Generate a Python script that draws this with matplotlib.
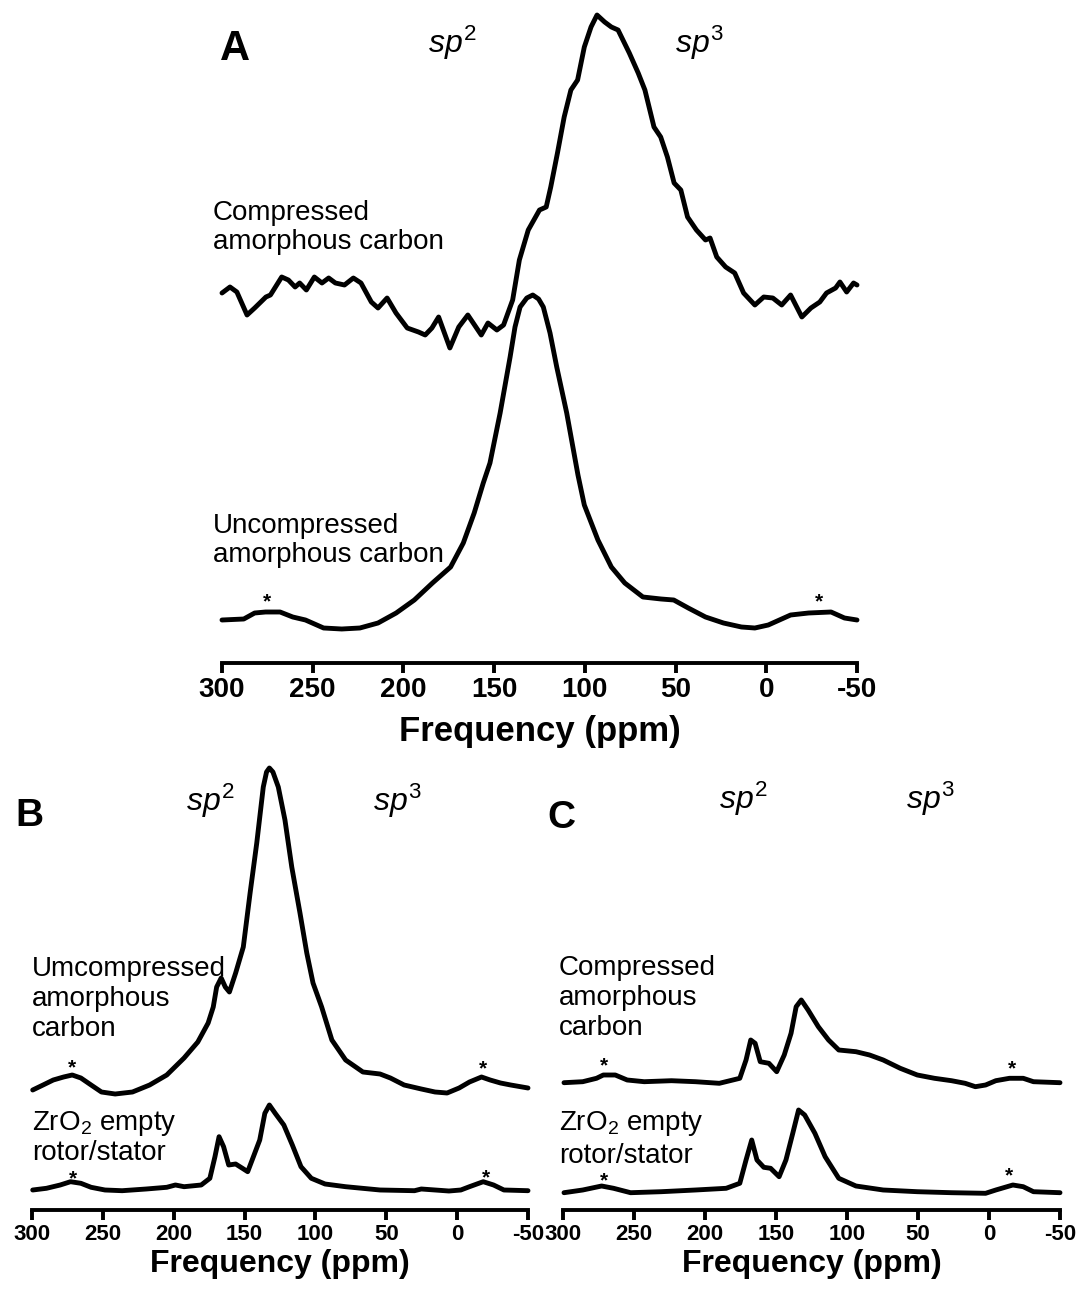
import numpy as np
import matplotlib
matplotlib.use("Agg")
import matplotlib.pyplot as plt

plt.rcParams['font.family'] = ['Liberation Sans', 'DejaVu Sans']
plt.rcParams['mathtext.fontset'] = 'custom'
plt.rcParams['mathtext.rm'] = 'Liberation Sans'
plt.rcParams['mathtext.it'] = 'Liberation Sans:italic'
plt.rcParams['mathtext.bf'] = 'Liberation Sans:bold'
plt.rcParams['axes.unicode_minus'] = False

# ---- panel A: compressed / uncompressed amorphous carbon ----
a_comp_ppm = [300, 295.6, 291.8, 286.2, 282.0, 275.8, 273.3, 267.1, 263.4, 259.7,
              257.2, 253.5, 249.1, 244.9, 241.2, 237.5, 232.5, 227.6, 223.4, 217.7,
              214.0, 209.0, 204.1, 197.9, 191.7, 188.0, 184.3, 180.6, 174.4, 169.5,
              164.5, 157.1, 153.4, 148.5, 144.8, 139.8, 136.1, 131.2, 125.0, 121.3,
              118.8, 115.1, 111.4, 107.7, 104.0, 100.3, 96.6, 93.3, 89.1, 85.4,
              81.7, 75.5, 70.6, 66.9, 61.9, 58.2, 54.5, 50.8, 47.1, 43.4,
              38.5, 33.5, 31.0, 27.3, 22.4, 17.4, 12.5, 6.3, 1.4, -3.6,
              -8.5, -13.4, -19.6, -24.6, -29.5, -33.2, -38.2, -40.6, -44.3, -48.1, -50]
a_comp_int = [60, 66, 61, 38, 45, 56, 58, 76, 73, 66,
              70, 63, 76, 70, 75, 70, 68, 75, 70, 51,
              45, 55, 40, 25, 21, 18, 25, 36, 5, 26,
              38, 18, 30, 23, 28, 53, 93, 123, 143, 146,
              166, 200, 236, 263, 273, 306, 326, 338, 331, 326,
              323, 300, 280, 263, 226, 216, 196, 170, 163, 136,
              123, 113, 115, 96, 86, 80, 60, 48, 56, 55,
              48, 58, 36, 45, 51, 60, 65, 71, 61, 70, 68]

a_unc_ppm = [300, 288, 282, 276, 268, 261, 254, 244, 234, 224,
             214, 204, 194, 184, 174, 167, 161, 156, 152.3, 146.7,
             141.2, 138.5, 135.7, 132, 128.7, 125.5, 122.9, 119.2, 115.5, 110,
             103.8, 100.3, 92.8, 85.4, 78, 68, 58, 51, 43, 33.5,
             23.6, 13.7, 6.3, -1.1, -13.4, -23.3, -35.7, -43.1, -50]
a_unc_int = [13, 14, 20, 21, 21, 16, 13, 5, 4, 5,
             10, 20, 33, 50, 66, 90, 120, 150, 170, 220,
             276, 306, 326, 335, 338, 334, 326, 300, 266, 220,
             158, 128, 93, 66, 50, 36, 34, 33, 25, 16,
             10, 6, 5, 8, 18, 20, 21, 15, 13]

# ---- panel B: uncompressed carbon / empty ZrO2 rotor ----
b_unc_ppm = [299.5, 292.2, 285.0, 277.7, 271.6, 265.5, 258.3, 251.0, 241.3, 229.1,
             217.0, 204.9, 192.7, 183.0, 175.7, 172.1, 169.7, 166.5, 163.6, 160.7,
             156.3, 150.9, 146.1, 141.4, 136.8, 134.5, 132.5, 130.0, 126.2, 121.5,
             116.7, 110.9, 106.1, 101.7, 95.6, 88.4, 78.7, 66.5, 54.4, 47.1,
             37.4, 25.3, 15.6, 7.1, -1.4, -8.7, -17.2, -23.3, -30.6, -37.8, -50]
b_unc_int = [10, 15, 20, 23, 25, 22, 15, 8, 6, 8,
             15, 25, 42, 58, 77, 93, 113, 122, 113, 108,
             127, 153, 207, 257, 313, 328, 332, 328, 313, 280,
             233, 187, 147, 117, 93, 60, 40, 28, 26, 22,
             15, 11, 8, 7, 12, 18, 23, 20, 17, 15, 12]

b_zro_ppm = [299.5, 289.8, 280.1, 272.8, 265.5, 258.3, 248.5, 236.4, 219.4, 204.9,
             198.8, 192.7, 180.6, 174.5, 170.9, 168.0, 164.8, 161.2, 156.3, 151.5,
             147.8, 144.2, 139.3, 135.7, 132.5, 128.4, 122.3, 116.3, 110.2, 102.9,
             93.2, 78.7, 54.4, 30.1, 25.3, 5.8, -2.6, -8.7, -18.4, -25.7, -33, -50]
b_zro_int = [5, 6.7, 10, 13.3, 11.7, 7.7, 5, 4.3, 6, 7.7,
             10, 8.3, 10, 16.7, 38.3, 58.3, 48.3, 30, 31, 26.7,
             23.3, 36.7, 55, 81.7, 90, 81.7, 70, 50, 28.3, 16.7,
             11, 8.3, 5, 4.3, 6, 4, 5, 8.3, 13.3, 10, 5, 4.3]

# ---- panel C: compressed carbon / empty ZrO2 rotor ----
c_comp_ppm = [299.3, 286.1, 276.4, 271.6, 263.2, 254.8, 242.8, 223.6, 206.7, 189.9,
              175.5, 171.1, 167.8, 164.7, 161.1, 155.0, 149.5, 144.2, 139.4, 135.8,
              132.2, 127.4, 120.2, 113.0, 105.8, 93.7, 84.1, 74.5, 62.5, 50.5,
              38.4, 26.4, 16.8, 9.6, 2.4, -4.8, -14.4, -24.1, -31.3, -50]
c_comp_int = [7.3, 8.3, 11.7, 15, 15, 10, 8.3, 9.3, 8.3, 6.7,
              11.7, 30, 50, 46.7, 28.3, 26.7, 18.3, 35, 56.7, 83.3,
              90, 80, 63.3, 50, 40, 38.3, 35, 30, 21.7, 15,
              11.7, 9.3, 6.7, 3.3, 5, 9.3, 11.7, 11.7, 8.3, 7.3]

c_zro_ppm = [299.3, 286.1, 272.8, 264.4, 252.4, 230.8, 206.7, 185.1, 175.5, 171.1,
             167.1, 163.4, 158.6, 153.8, 147.8, 143.0, 138.2, 134.1, 129.8, 122.6,
             115.4, 105.8, 93.7, 74.5, 50.5, 26.4, 2.4, -4.8, -16.8, -24.1, -31.3, -50]
c_zro_int = [2.3, 5, 9, 6.7, 2.3, 3.3, 5, 6.7, 11.7, 35,
             55, 35, 27.7, 26.7, 18.3, 35, 61.7, 85, 80, 61.7,
             38.3, 16.7, 9, 5, 3.3, 2.3, 1.7, 5, 10, 8.3, 3.3, 2.3]

ticks = [300, 250, 200, 150, 100, 50, 0, -50]
tick_labels = [str(t) for t in ticks]

W, H = 1077, 1300
fig = plt.figure(figsize=(W / 100, H / 100), dpi=100)


def make_axes(left, right, bottom, top, ymax, tick_size, label_size, labelpad):
    ax = fig.add_axes([left / W, 1 - bottom / H, (right - left) / W, (bottom - top) / H])
    ax.set_xlim(300, -50)
    ax.set_ylim(0, ymax)
    for s in ['top', 'left', 'right']:
        ax.spines[s].set_visible(False)
    ax.spines['bottom'].set_linewidth(2.8)
    ax.set_yticks([])
    ax.set_xticks(ticks)
    ax.set_xticklabels(tick_labels, fontweight='bold')
    ax.tick_params(axis='x', direction='out', length=7, width=2.8, pad=3,
                   labelsize=tick_size)
    ax.set_xlabel('Frequency (ppm)', fontsize=label_size, fontweight='bold',
                  labelpad=labelpad)
    ax.patch.set_alpha(0)
    return ax


def trace(ax, ppm, inten, offset):
    ax.plot(ppm, np.array(inten) + offset, color='black', lw=3.5,
            solid_joinstyle='round', solid_capstyle='round', clip_on=False)


def star(ax, x, y):
    ax.text(x, y, '*', ha='center', va='center', fontsize=15, fontweight='bold',
            clip_on=False)


sp_kw = dict(ha='center', va='baseline', fontsize=23)
lab_kw = dict(ha='left', va='baseline', fontsize=20, clip_on=False)

# panel A
axA = make_axes(222, 857, 663, 0, 663, 20, 25, 9)
trace(axA, a_comp_ppm, a_comp_int, 310)
trace(axA, a_unc_ppm, a_unc_int, 30)
axA.text(301, 634, 'A', ha='left', va='top', fontsize=30, fontweight='bold')
axA.text(173, 610, r'$\mathit{sp}^{2}$', **sp_kw)
axA.text(37, 610, r'$\mathit{sp}^{3}$', **sp_kw)
axA.text(305, 443, 'Compressed', **lab_kw)
axA.text(305, 414, 'amorphous carbon', **lab_kw)
axA.text(305, 130, 'Uncompressed', **lab_kw)
axA.text(305, 101, 'amorphous carbon', **lab_kw)
star(axA, 275, 61)
star(axA, -29, 61)

# panel B
axB = make_axes(32, 528, 1210, 760, 450, 16, 23, 3)
trace(axB, b_unc_ppm, b_unc_int, 110)
trace(axB, b_zro_ppm, b_zro_int, 15)
axB.text(312, 412, 'B', ha='left', va='top', fontsize=28, fontweight='bold')
axB.text(174, 399, r'$\mathit{sp}^{2}$', **sp_kw)
axB.text(42, 399, r'$\mathit{sp}^{3}$', **sp_kw)
axB.text(300, 234, 'Umcompressed', **lab_kw)
axB.text(300, 204, 'amorphous', **lab_kw)
axB.text(300, 174, 'carbon', **lab_kw)
axB.text(300, 80, r'ZrO$_2$ empty', **lab_kw)
axB.text(300, 50, 'rotor/stator', **lab_kw)
star(axB, 272, 142)
star(axB, -18, 141)
star(axB, 271, 31)
star(axB, -20, 32)

# panel C
axC = make_axes(563, 1060, 1210, 760, 450, 16, 23, 3)
trace(axC, c_comp_ppm, c_comp_int, 120)
trace(axC, c_zro_ppm, c_zro_int, 15)
axC.text(311, 410, 'C', ha='left', va='top', fontsize=28, fontweight='bold')
axC.text(173, 401, r'$\mathit{sp}^{2}$', **sp_kw)
axC.text(41, 401, r'$\mathit{sp}^{3}$', **sp_kw)
axC.text(303, 235, 'Compressed', **lab_kw)
axC.text(303, 205, 'amorphous', **lab_kw)
axC.text(303, 175, 'carbon', **lab_kw)
axC.text(303, 80, r'ZrO$_2$ empty', **lab_kw)
axC.text(303, 47, 'rotor/stator', **lab_kw)
star(axC, 271, 144)
star(axC, -16, 141)
star(axC, 271, 29)
star(axC, -14, 34)

fig.savefig('out.png', dpi=100)
